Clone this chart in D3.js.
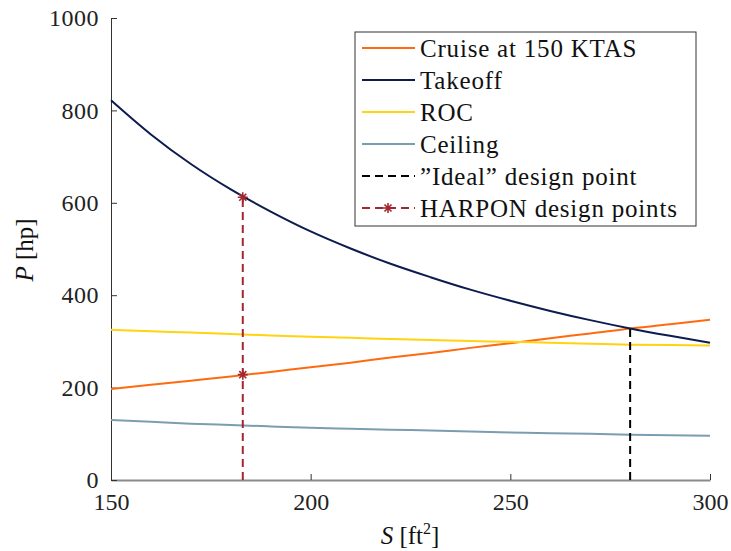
<!DOCTYPE html>
<html>
<head>
<meta charset="utf-8">
<script src="https://cdn.jsdelivr.net/npm/d3@7"></script>
<style>
  body { margin: 0; background: #fff; }
  svg { display: block; }
  svg text { font-family: "Times New Roman", Times, "Liberation Serif", "DejaVu Serif", "Nimbus Roman", "Noto Serif", serif !important; }
</style>
</head>
<body>
<svg id="chart" width="731" height="551"></svg>
<script>
// wing area S [ft^2]
const areas = [150, 160, 170, 180, 190, 200, 210, 220, 230, 240, 250, 260, 270, 280, 290, 300];

// power required P [hp]
const cruise  = [197, 206, 215, 224, 234, 244, 254, 265, 275, 286, 296, 307, 317, 328, 337, 347];
const takeoff = [822, 748, 684, 629, 581, 538, 501, 468, 439, 412, 388, 366, 346, 328, 312, 297];
const roc     = [325, 322, 319, 316, 313, 310, 308, 305, 303, 301, 299, 297, 295, 293, 292, 291];
const ceiling = [130, 126, 122, 119, 116, 113, 111, 109, 107, 105, 103, 101, 100, 98, 97, 96];

const idealPoint = { s: 280, p: 328 };
const harponPoints = [{ s: 183, p: 228 }, { s: 183, p: 612 }];

const xTicks = [150, 200, 250, 300];
const yTicks = [0, 200, 400, 600, 800, 1000];

const series = [
  { name: "Cruise at 150 KTAS", values: cruise, color: "#ff6a10" },
  { name: "Takeoff", values: takeoff, color: "#0c1c4e" },
  { name: "ROC", values: roc, color: "#ffd310" },
  { name: "Ceiling", values: ceiling, color: "#7b9db0" }
];

const svg = d3.select("#chart");
const plotLeft = 111, plotRight = 710, plotTop = 18, plotBottom = 480;

const x = d3.scaleLinear().domain([150, 300]).range([plotLeft, plotRight]);
const y = d3.scaleLinear().domain([0, 1000]).range([plotBottom, plotTop]);

// ======== axes (matlab style, ticks inside, no box)
const xAxis = svg.append("g")
  .attr("transform", `translate(0,${plotBottom})`)
  .call(d3.axisBottom(x).tickValues(xTicks).tickFormat(d3.format("d"))
    .tickSizeInner(-6).tickSizeOuter(0).tickPadding(13));
xAxis.select(".domain").attr("stroke", "#8a8a8a").attr("stroke-width", 2);
xAxis.selectAll(".tick line").attr("stroke", "#333");
xAxis.selectAll("text").attr("font-size", 24).attr("fill", "#222");

const yAxis = svg.append("g")
  .attr("transform", `translate(${plotLeft},0)`)
  .call(d3.axisLeft(y).tickValues(yTicks).tickFormat(d3.format("d"))
    .tickSizeInner(-6).tickSizeOuter(0).tickPadding(12));
yAxis.select(".domain").attr("stroke", "#333");
yAxis.selectAll(".tick line").attr("stroke", "#333");
yAxis.selectAll("text").attr("font-size", 24).attr("fill", "#222").attr("letter-spacing", 0.5);

// ======== curves
const line = d3.line()
  .x((d, i) => x(areas[i]))
  .y(d => y(d))
  .curve(d3.curveMonotoneX);

svg.append("g")
  .selectAll("path")
  .data(series)
  .join("path")
  .attr("fill", "none")
  .attr("stroke", d => d.color)
  .attr("stroke-width", 2)
  .attr("d", d => line(d.values));

// ======== design points
svg.append("line")
  .attr("x1", x(idealPoint.s)).attr("x2", x(idealPoint.s))
  .attr("y1", y(0)).attr("y2", y(idealPoint.p))
  .attr("stroke", "#000").attr("stroke-width", 2)
  .attr("stroke-dasharray", "8,5");

const harponTop = d3.max(harponPoints, d => d.p);
svg.append("line")
  .attr("x1", x(harponPoints[0].s)).attr("x2", x(harponPoints[0].s))
  .attr("y1", y(0)).attr("y2", y(harponTop))
  .attr("stroke", "#a2272f").attr("stroke-width", 2)
  .attr("stroke-dasharray", "8,5");

function starPath(r) {
  const d = r * Math.SQRT1_2;
  return `M${-r},0L${r},0M0,${-r}L0,${r}M${-d},${-d}L${d},${d}M${-d},${d}L${d},${-d}`;
}

svg.append("g")
  .selectAll("path")
  .data(harponPoints)
  .join("path")
  .attr("transform", d => `translate(${x(d.s)},${y(d.p)})`)
  .attr("d", starPath(5))
  .attr("stroke", "#a2272f")
  .attr("stroke-width", 1.6)
  .attr("fill", "none");

// ======== legend
const legend = svg.append("g").attr("transform", "translate(355,32)");
legend.append("rect")
  .attr("width", 341).attr("height", 194)
  .attr("fill", "#fff").attr("stroke", "#333").attr("stroke-width", 1);

const legendItems = [
  ...series.map(s => ({ name: s.name, color: s.color, dash: null, marker: false })),
  { name: "\u201DIdeal\u201D design point", color: "#000", dash: "8,5", marker: false },
  { name: "HARPON design points", color: "#a2272f", dash: "8,5", marker: true }
];

const row = legend.selectAll("g.item")
  .data(legendItems)
  .join("g")
  .attr("class", "item")
  .attr("transform", (d, i) => `translate(0,${16 + i * 32})`);

row.append("line")
  .attr("x1", 7).attr("x2", 60)
  .attr("stroke", d => d.color)
  .attr("stroke-width", 2)
  .attr("stroke-dasharray", d => d.dash);

row.filter(d => d.marker)
  .append("path")
  .attr("transform", "translate(33,0)")
  .attr("d", starPath(5))
  .attr("stroke", d => d.color)
  .attr("stroke-width", 1.6);

row.append("text")
  .attr("x", 65)
  .attr("dy", "0.35em")
  .attr("font-size", 25)
  .attr("letter-spacing", 0.8)
  .attr("fill", "#111")
  .text(d => d.name);

// ======== axis labels
const yLabel = svg.append("text")
  .attr("transform", `translate(33,250) rotate(-90)`)
  .attr("text-anchor", "middle")
  .attr("font-size", 25)
  .attr("fill", "#111");
yLabel.append("tspan").attr("font-style", "italic").text("P");
yLabel.append("tspan").text(" [hp]");

const xLabel = svg.append("text")
  .attr("x", 410).attr("y", 544)
  .attr("text-anchor", "middle")
  .attr("font-size", 25)
  .attr("fill", "#111");
xLabel.append("tspan").attr("font-style", "italic").text("S");
xLabel.append("tspan").text(" [ft");
xLabel.append("tspan").attr("font-size", 16).attr("dy", -10).text("2");
xLabel.append("tspan").attr("dy", 10).text("]");
</script>
</body>
</html>
